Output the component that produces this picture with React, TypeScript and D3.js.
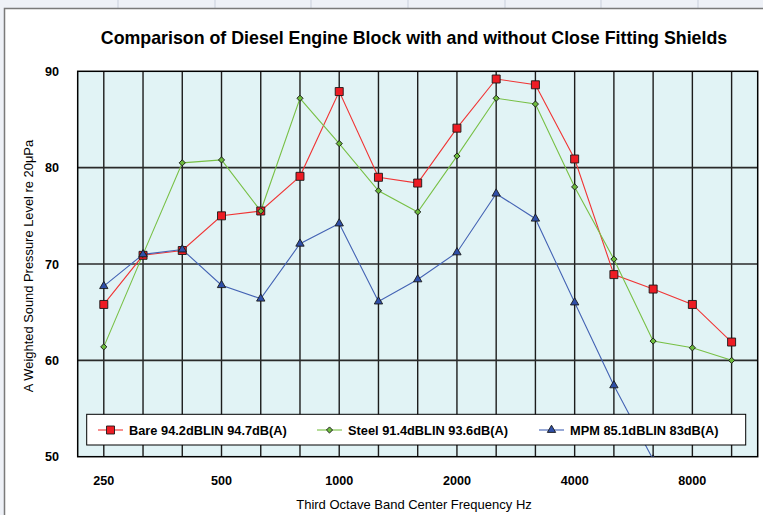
import React from "react";
import * as d3 from "d3";

// third octave band centres
const freqs = ["250", "315", "400", "500", "630", "800", "1000", "1250", "1600", "2000", "2500", "3150", "4000", "5000", "6300", "8000", "10000"];
const tickLabels = ["250", "500", "1000", "2000", "4000", "8000"];
const yTicks = [50, 60, 70, 80, 90];

const bare = [65.8, 70.9, 71.4, 75.0, 75.5, 79.1, 87.9, 79.0, 78.4, 84.1, 89.2, 88.6, 80.9, 68.9, 67.4, 65.8, 61.9];
const steel = [61.4, 71.0, 80.5, 80.8, 75.5, 87.2, 82.5, 77.6, 75.4, 81.2, 87.2, 86.6, 78.0, 70.5, 62.0, 61.3, 60.0];
const mpm = [67.7, 71.0, 71.5, 67.8, 66.4, 72.1, 74.2, 66.1, 68.4, 71.2, 77.3, 74.7, 66.0, 57.4, 49.7, null, null];

const series = [
  { name: "Bare 94.2dBLIN 94.7dB(A)", values: bare, line: "#f03535", fill: "#ee1c24", shape: "square" },
  { name: "Steel 91.4dBLIN 93.6dB(A)", values: steel, line: "#78c046", fill: "#6cbb3c", shape: "diamond" },
  { name: "MPM 85.1dBLIN 83dB(A)", values: mpm, line: "#4463b4", fill: "#2f4fa8", shape: "triangle" },
];

const W = 763;
const H = 515;
const plot = { left: 77.7, right: 757.7, top: 71.3, bottom: 456.7 };

const font = "'Liberation Sans', Arial, sans-serif";

const markerPath = (shape: string) => {
  if (shape === "square") return d3.symbol(d3.symbolSquare, 64)()!;
  if (shape === "diamond") return d3.symbol(d3.symbolSquare, 19)()!;
  return d3.symbol(d3.symbolTriangle, 30)()!;
};

const Marker = ({ s, x, y }: { s: any; x: number; y: number }) => (
  <path
    d={markerPath(s.shape)}
    transform={`translate(${x},${y})${s.shape === "diamond" ? " rotate(45)" : ""}`}
    fill={s.fill}
    stroke="#1a1a1a"
    strokeWidth={0.9}
  />
);

export default function App() {
  const x = d3.scalePoint<string>().domain(freqs).range([plot.left, plot.right]).padding(0.665);
  const y = d3.scaleLinear().domain([50, 90]).range([plot.bottom, plot.top]);

  const line = d3
    .line<number | null>()
    .defined((d) => d != null)
    .x((_, i) => x(freqs[i])!)
    .y((d) => y(d as number));

  const legendItems = [
    { lineX: 98, textX: 129 },
    { lineX: 317, textX: 348 },
    { lineX: 539, textX: 570 },
  ];

  // faint spreadsheet columns behind the chart
  const sheetCols = [118, 215, 311, 408, 505, 601, 698];

  return (
    <svg width={W} height={H} style={{ position: "absolute", left: 0, top: 0 }} fontFamily={font}>
      <rect x={0} y={0} width={W} height={H} fill="#eef1f7" />
      {sheetCols.map((c) => (
        <line key={c} x1={c} x2={c} y1={0} y2={8} stroke="#c9cfdc" />
      ))}
      <rect x={4.5} y={8.5} width={W} height={H} fill="#ffffff" stroke="#7a7a7a" strokeWidth={1.5} />

      <text x={414} y={43.5} textAnchor="middle" fontSize={17.8} fontWeight="bold" fill="#000">
        Comparison of Diesel Engine Block with and without Close Fitting Shields
      </text>

      <defs>
        <clipPath id="plotClip">
          <rect x={plot.left} y={plot.top} width={plot.right - plot.left} height={plot.bottom - plot.top} />
        </clipPath>
      </defs>

      <rect x={plot.left} y={plot.top} width={plot.right - plot.left} height={plot.bottom - plot.top} fill="#e1f3f5" />

      {freqs.map((f) => (
        <line key={f} x1={x(f)} x2={x(f)} y1={plot.top} y2={plot.bottom} stroke="#1c1c1c" strokeWidth={1.4} />
      ))}
      {yTicks.slice(1, -1).map((t) => (
        <line key={t} x1={plot.left} x2={plot.right} y1={y(t)} y2={y(t)} stroke="#2a2a2a" strokeWidth={1.6} />
      ))}
      <rect x={plot.left} y={plot.top} width={plot.right - plot.left} height={plot.bottom - plot.top} fill="none" stroke="#000" strokeWidth={1.5} />

      <g clipPath="url(#plotClip)">
        {series.map((s) => (
          <path key={s.name} d={line(s.values)!} fill="none" stroke={s.line} strokeWidth={1.1} />
        ))}
        {series.map((s) =>
          s.values.map((v, i) => (v == null ? null : <Marker key={s.name + i} s={s} x={x(freqs[i])!} y={y(v)} />))
        )}
      </g>

      {/* legend */}
      <rect x={86.7} y={414.3} width={659} height={30.7} fill="#fff" stroke="#000" strokeWidth={1} />
      {series.map((s, i) => {
        const it = legendItems[i];
        const cy = 430;
        return (
          <g key={s.name}>
            <line x1={it.lineX} x2={it.lineX + 25} y1={cy} y2={cy} stroke={s.line} strokeWidth={1.1} />
            <Marker s={s} x={it.lineX + 12.5} y={cy} />
            <text x={it.textX} y={cy + 4.6} fontSize={12.8} fontWeight="bold" fill="#000">
              {s.name}
            </text>
          </g>
        );
      })}

      {/* y axis labels */}
      {yTicks.map((t) => (
        <text key={t} x={59} y={y(t) + 4.6} textAnchor="end" fontSize={12.6} fontWeight="bold" fill="#000">
          {t}
        </text>
      ))}
      {/* x axis labels */}
      {tickLabels.map((t) => (
        <text key={t} x={x(t)} y={485} textAnchor="middle" fontSize={12.6} fontWeight="bold" fill="#000">
          {t}
        </text>
      ))}

      <text x={414} y={509} textAnchor="middle" fontSize={13} fill="#000">
        Third Octave Band Center Frequency Hz
      </text>
      <text
        transform={`translate(32.5,266) rotate(-90)`}
        textAnchor="middle"
        fontSize={12.9}
        fill="#000"
      >
        A Weighted Sound Pressure Level re 20μPa
      </text>
    </svg>
  );
}
